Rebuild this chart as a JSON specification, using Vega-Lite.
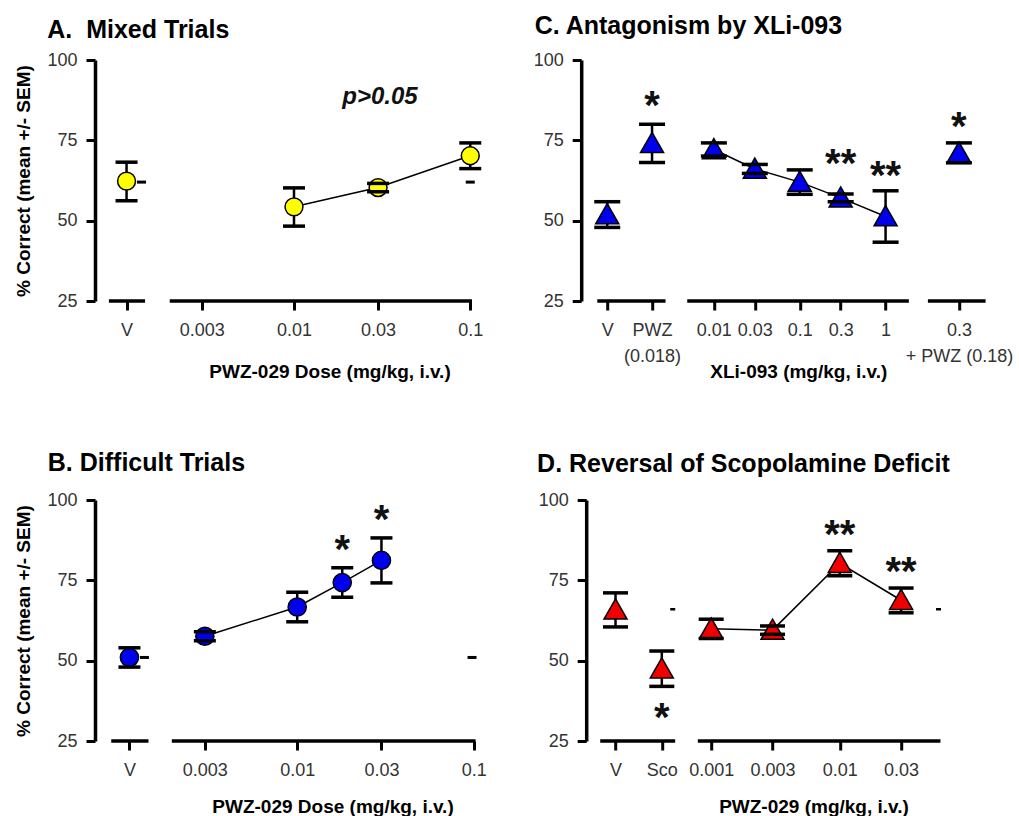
{
  "$schema": "https://vega.github.io/schema/vega-lite/v6.json",
  "padding": {"left": 14, "top": 14, "right": 0, "bottom": 0},
  "columns": 2,
  "align": "none",
  "bounds": "flush",
  "spacing": {"row": 199, "column": 91.2},
  "datasets": {
    "pts": [
      {"panel": "A", "dose": "V", "x": -2.95, "mean": 62.3, "lo": 56.2, "hi": 68.2, "conn": false},
      {"panel": "A", "dose": "0.01", "x": -2, "mean": 54.3, "lo": 48.3, "hi": 60.2, "conn": true},
      {"panel": "A", "dose": "0.03", "x": -1.523, "mean": 60.3, "lo": 59, "hi": 61.6, "conn": true},
      {"panel": "A", "dose": "0.1", "x": -1, "mean": 70.2, "lo": 66.2, "hi": 74.2, "conn": true},
      {"panel": "B", "dose": "V", "x": -2.95, "mean": 51, "lo": 48, "hi": 54, "conn": false},
      {"panel": "B", "dose": "0.003", "x": -2.523, "mean": 57.6, "lo": 56.2, "hi": 59, "conn": true},
      {"panel": "B", "dose": "0.01", "x": -2, "mean": 66.7, "lo": 62.1, "hi": 71.3, "conn": true},
      {"panel": "B", "dose": "0.018", "x": -1.745, "mean": 74.3, "lo": 69.7, "hi": 78.9, "conn": true, "sig": "*", "sig_y": 86.7},
      {"panel": "B", "dose": "0.03", "x": -1.523, "mean": 81.2, "lo": 74.2, "hi": 88.2, "conn": true, "sig": "*", "sig_y": 96},
      {"panel": "C", "dose": "V", "x": -3.242, "mean": 51.9, "lo": 47.9, "hi": 55.9, "conn": false},
      {"panel": "C", "dose": "PWZ (0.018)", "x": -2.72, "mean": 74.05, "lo": 68.1, "hi": 80, "conn": false, "sig": "*", "sig_y": 87.9},
      {"panel": "C", "dose": "0.01", "x": -2, "mean": 72.15, "lo": 70.1, "hi": 74.2, "conn": true},
      {"panel": "C", "dose": "0.03", "x": -1.523, "mean": 66.1, "lo": 64.7, "hi": 67.5, "conn": true},
      {"panel": "C", "dose": "0.1", "x": -1, "mean": 62, "lo": 58.2, "hi": 65.8, "conn": true},
      {"panel": "C", "dose": "0.3", "x": -0.523, "mean": 57.1, "lo": 55.9, "hi": 58.3, "conn": true, "sig": "**", "sig_y": 69.9},
      {"panel": "C", "dose": "1", "x": 0, "mean": 51.3, "lo": 43.3, "hi": 59.3, "conn": true, "sig": "**", "sig_y": 66},
      {"panel": "C", "dose": "0.3 + PWZ (0.18)", "x": 0.854, "mean": 71.1, "lo": 68, "hi": 74.2, "conn": false, "sig": "*", "sig_y": 81.2},
      {"panel": "D", "dose": "V", "x": -3.744, "mean": 65.8, "lo": 60.5, "hi": 71.1, "conn": false},
      {"panel": "D", "dose": "Sco", "x": -3.384, "mean": 47.5, "lo": 42, "hi": 53, "conn": false, "sig": "*", "sig_y": 34.3},
      {"panel": "D", "dose": "0.001", "x": -3, "mean": 59.9, "lo": 56.9, "hi": 62.9, "conn": true},
      {"panel": "D", "dose": "0.003", "x": -2.523, "mean": 59.5, "lo": 58.2, "hi": 60.8, "conn": true},
      {"panel": "D", "dose": "0.01", "x": -2, "mean": 80.3, "lo": 76.4, "hi": 84.2, "conn": true, "sig": "**", "sig_y": 91.4},
      {"panel": "D", "dose": "0.03", "x": -1.523, "mean": 68.8, "lo": 64.9, "hi": 72.6, "conn": true, "sig": "**", "sig_y": 79.7}
    ],
    "segs": [
      {"panel": "A", "x": -3.05, "x_end": -2.845},
      {"panel": "A", "x": -2.705, "x_end": -0.99},
      {"panel": "B", "x": -3.053, "x_end": -2.842},
      {"panel": "B", "x": -2.71, "x_end": -0.99},
      {"panel": "C", "x": -3.358, "x_end": -2.563},
      {"panel": "C", "x": -2.31, "x_end": 0.271},
      {"panel": "C", "x": 0.493, "x_end": 1.165},
      {"panel": "D", "x": -3.863, "x_end": -3.28},
      {"panel": "D", "x": -3.104, "x_end": -1.217}
    ],
    "dashes": [
      {"panel": "A", "x": -2.865, "mean": 62},
      {"panel": "A", "x": -1.0, "mean": 62},
      {"panel": "B", "x": -2.865, "mean": 51},
      {"panel": "B", "x": -1.01, "mean": 51},
      {"panel": "D", "x": -3.299, "mean": 66},
      {"panel": "D", "x": -1.232, "mean": 66}
    ],
    "notes": [
      {"panel": "A", "x": -1.512, "y": 88.5, "text": "p>0.05"}
    ]
  },
  "concat": [
    {
      "width": 395, "height": 241,
      "title": {"text": "A.\u00a0 Mixed Trials", "anchor": "start", "frame": "group", "dx": -47.7, "offset": -12.3, "fontSize": 25, "fontWeight": "bold", "font": "Liberation Sans", "color": "black", "baseline": "alphabetic"},
      "encoding": {"x": {"field": "x", "type": "quantitative", "scale": {"domain": [-3.129, -0.888], "nice": false, "zero": false},
        "axis": {"values": [-2.95, -2.523, -2, -1.523, -1], "labelExpr": "datum.value == -2.95 ? 'V' : datum.value == -2.523 ? '0.003' : datum.value == -2 ? '0.01' : datum.value == -1.523 ? '0.03' : '0.1'",
          "domain": false, "tickSize": 9, "tickWidth": 3, "tickColor": "black", "labelPadding": 11, "labelFontSize": 18, "labelColor": "#333", "labelFlush": false, "labelOverlap": false, "labelBound": false,
          "title": "PWZ-029 Dose (mg/kg, i.v.)", "titleFontSize": 19, "titleFontWeight": "bold", "titleColor": "black", "titleX": 234.5, "titleY": 61.3, "titleAnchor": "middle"}}},
      "layer": [
        {"data": {"name": "segs"}, "transform": [{"filter": "datum.panel == 'A'"}], "mark": {"type": "rule", "color": "black", "strokeWidth": 3.5, "strokeCap": "butt"},
         "encoding": {"x2": {"field": "x_end"}, "y": {"datum": 25, "type": "quantitative", "title": "% Correct (mean +/- SEM)", "scale": {"domain": [25, 100], "nice": false, "zero": false}}}},
        {"data": {"name": "dashes"}, "transform": [{"filter": "datum.panel == 'A'"}], "mark": {"type": "tick", "orient": "horizontal", "color": "black", "size": 9, "thickness": 3, "opacity": 1},
         "encoding": {"y": {"field": "mean", "type": "quantitative", "title": "% Correct (mean +/- SEM)", "scale": {"domain": [25, 100], "nice": false, "zero": false}}}},
        {"data": {"name": "pts"}, "transform": [{"filter": "datum.panel == 'A' && datum.conn"}], "mark": {"type": "line", "color": "black", "strokeWidth": 1.5},
         "encoding": {"y": {"field": "mean", "type": "quantitative", "title": "% Correct (mean +/- SEM)", "scale": {"domain": [25, 100], "nice": false, "zero": false}}}},
        {"data": {"name": "pts"}, "transform": [{"filter": "datum.panel == 'A'"}], "mark": {"type": "rule", "color": "black", "strokeWidth": 2.5},
         "encoding": {"y": {"field": "lo", "type": "quantitative", "title": "% Correct (mean +/- SEM)", "scale": {"domain": [25, 100], "nice": false, "zero": false}}, "y2": {"field": "hi"}}},
        {"data": {"name": "pts"}, "transform": [{"filter": "datum.panel == 'A'"}], "mark": {"type": "point", "shape": "circle", "filled": true, "fill": "#ffff00", "stroke": "black", "strokeWidth": 1.5, "size": 320, "opacity": 1},
         "encoding": {"y": {"field": "mean", "type": "quantitative", "title": "% Correct (mean +/- SEM)", "scale": {"domain": [25, 100], "nice": false, "zero": false},
           "axis": {"values": [25, 50, 75, 100], "domainWidth": 3.5, "domainColor": "black", "tickSize": 9, "tickWidth": 3, "tickColor": "black", "labelPadding": 9, "labelFontSize": 18, "labelColor": "#333", "labelFlush": false, "labelOverlap": false,
             "titleFontSize": 19, "titleFontWeight": "bold", "titleColor": "black", "titlePadding": 13}}}},
        {"data": {"name": "pts"}, "transform": [{"filter": "datum.panel == 'A'"}], "mark": {"type": "tick", "orient": "horizontal", "color": "black", "size": 22, "thickness": 3.5, "opacity": 1},
         "encoding": {"y": {"field": "lo", "type": "quantitative", "title": "% Correct (mean +/- SEM)", "scale": {"domain": [25, 100], "nice": false, "zero": false}}}},
        {"data": {"name": "pts"}, "transform": [{"filter": "datum.panel == 'A'"}], "mark": {"type": "tick", "orient": "horizontal", "color": "black", "size": 22, "thickness": 3.5, "opacity": 1},
         "encoding": {"y": {"field": "hi", "type": "quantitative", "title": "% Correct (mean +/- SEM)", "scale": {"domain": [25, 100], "nice": false, "zero": false}}}},
        {"data": {"name": "notes"}, "transform": [{"filter": "datum.panel == 'A'"}], "mark": {"type": "text", "fontSize": 24, "fontWeight": "bold", "fontStyle": "italic", "color": "#111", "align": "center", "baseline": "middle", "font": "Liberation Sans"},
         "encoding": {"y": {"field": "y", "type": "quantitative", "title": "% Correct (mean +/- SEM)", "scale": {"domain": [25, 100], "nice": false, "zero": false}}, "text": {"field": "text"}}}
      ]
    },
    {
      "width": 403, "height": 241,
      "title": {"text": "C. Antagonism by XLi-093", "anchor": "start", "frame": "group", "dx": -51.5, "offset": -8, "fontSize": 25, "fontWeight": "bold", "font": "Liberation Sans", "color": "black", "baseline": "alphabetic"},
      "encoding": {"x": {"field": "x", "type": "quantitative", "scale": {"domain": [-3.487, 1.207], "nice": false, "zero": false},
        "axis": {"values": [-3.242, -2.72, -2, -1.523, -1, -0.523, 0, 0.854], "labelExpr": "datum.value == -3.242 ? 'V' : datum.value == -2.72 ? ['PWZ', '(0.018)'] : datum.value == -2 ? '0.01' : datum.value == -1.523 ? '0.03' : datum.value == -1 ? '0.1' : datum.value == -0.523 ? '0.3' : datum.value == 0 ? '1' : ['0.3', '+ PWZ (0.18)']",
          "domain": false, "tickSize": 9, "tickWidth": 3, "tickColor": "black", "labelPadding": 11, "labelFontSize": 18, "labelLineHeight": 26, "labelColor": "#333", "labelFlush": false, "labelOverlap": false, "labelBound": false,
          "title": "XLi-093 (mg/kg, i.v.)", "titleFontSize": 19, "titleFontWeight": "bold", "titleColor": "black", "titleX": 212.1, "titleY": 61.6, "titleAnchor": "middle"}}},
      "layer": [
        {"data": {"name": "segs"}, "transform": [{"filter": "datum.panel == 'C'"}], "mark": {"type": "rule", "color": "black", "strokeWidth": 3.5, "strokeCap": "butt"},
         "encoding": {"x2": {"field": "x_end"}, "y": {"datum": 25, "type": "quantitative", "title": null, "scale": {"domain": [25, 100], "nice": false, "zero": false}}}},
        {"data": {"name": "pts"}, "transform": [{"filter": "datum.panel == 'C' && datum.conn"}], "mark": {"type": "line", "color": "black", "strokeWidth": 1.5},
         "encoding": {"y": {"field": "mean", "type": "quantitative", "title": null, "scale": {"domain": [25, 100], "nice": false, "zero": false}}}},
        {"data": {"name": "pts"}, "transform": [{"filter": "datum.panel == 'C'"}], "mark": {"type": "rule", "color": "black", "strokeWidth": 2.5},
         "encoding": {"y": {"field": "lo", "type": "quantitative", "title": null, "scale": {"domain": [25, 100], "nice": false, "zero": false}}, "y2": {"field": "hi"}}},
        {"data": {"name": "pts"}, "transform": [{"filter": "datum.panel == 'C'"}], "mark": {"type": "point", "shape": "M0,-0.95L1,0.8L-1,0.8Z", "filled": true, "fill": "#0000f0", "stroke": "black", "strokeWidth": 1.5, "size": 529, "opacity": 1},
         "encoding": {"y": {"field": "mean", "type": "quantitative", "title": null, "scale": {"domain": [25, 100], "nice": false, "zero": false},
           "axis": {"values": [25, 50, 75, 100], "offset": 5, "domainWidth": 3.5, "domainColor": "black", "tickSize": 9, "tickWidth": 3, "tickColor": "black", "labelPadding": 9, "labelFontSize": 18, "labelColor": "#333", "labelFlush": false, "labelOverlap": false}}}},
        {"data": {"name": "pts"}, "transform": [{"filter": "datum.panel == 'C'"}], "mark": {"type": "tick", "orient": "horizontal", "color": "black", "size": 26, "thickness": 3.5, "opacity": 1},
         "encoding": {"y": {"field": "lo", "type": "quantitative", "title": null, "scale": {"domain": [25, 100], "nice": false, "zero": false}}}},
        {"data": {"name": "pts"}, "transform": [{"filter": "datum.panel == 'C'"}], "mark": {"type": "tick", "orient": "horizontal", "color": "black", "size": 26, "thickness": 3.5, "opacity": 1},
         "encoding": {"y": {"field": "hi", "type": "quantitative", "title": null, "scale": {"domain": [25, 100], "nice": false, "zero": false}}}},
        {"data": {"name": "pts"}, "transform": [{"filter": "datum.panel == 'C' && datum.sig"}], "mark": {"type": "text", "fontSize": 40, "fontWeight": "bold", "color": "#111", "align": "center", "baseline": "alphabetic", "dy": 20, "font": "Liberation Sans"},
         "encoding": {"y": {"field": "sig_y", "type": "quantitative", "title": null, "scale": {"domain": [25, 100], "nice": false, "zero": false}}, "text": {"field": "sig"}}}
      ]
    },
    {
      "width": 400, "height": 241,
      "title": {"text": "B. Difficult Trials", "anchor": "start", "frame": "group", "dx": -47.2, "offset": -5, "fontSize": 25, "fontWeight": "bold", "font": "Liberation Sans", "color": "black", "baseline": "alphabetic"},
      "encoding": {"x": {"field": "x", "type": "quantitative", "scale": {"domain": [-3.145, -0.88], "nice": false, "zero": false},
        "axis": {"values": [-2.95, -2.523, -2, -1.523, -1], "labelExpr": "datum.value == -2.95 ? 'V' : datum.value == -2.523 ? '0.003' : datum.value == -2 ? '0.01' : datum.value == -1.523 ? '0.03' : '0.1'",
          "domain": false, "tickSize": 9, "tickWidth": 3, "tickColor": "black", "labelPadding": 11, "labelFontSize": 18, "labelColor": "#333", "labelFlush": false, "labelOverlap": false, "labelBound": false,
          "title": "PWZ-029 Dose (mg/kg, i.v.)", "titleFontSize": 19, "titleFontWeight": "bold", "titleColor": "black", "titleX": 237.5, "titleY": 56.4, "titleAnchor": "middle"}}},
      "layer": [
        {"data": {"name": "segs"}, "transform": [{"filter": "datum.panel == 'B'"}], "mark": {"type": "rule", "color": "black", "strokeWidth": 3.5, "strokeCap": "butt"},
         "encoding": {"x2": {"field": "x_end"}, "y": {"datum": 25, "type": "quantitative", "title": "% Correct (mean +/- SEM)", "scale": {"domain": [25, 100], "nice": false, "zero": false}}}},
        {"data": {"name": "dashes"}, "transform": [{"filter": "datum.panel == 'B'"}], "mark": {"type": "tick", "orient": "horizontal", "color": "black", "size": 9, "thickness": 3, "opacity": 1},
         "encoding": {"y": {"field": "mean", "type": "quantitative", "title": "% Correct (mean +/- SEM)", "scale": {"domain": [25, 100], "nice": false, "zero": false}}}},
        {"data": {"name": "pts"}, "transform": [{"filter": "datum.panel == 'B' && datum.conn"}], "mark": {"type": "line", "color": "black", "strokeWidth": 1.5},
         "encoding": {"y": {"field": "mean", "type": "quantitative", "title": "% Correct (mean +/- SEM)", "scale": {"domain": [25, 100], "nice": false, "zero": false}}}},
        {"data": {"name": "pts"}, "transform": [{"filter": "datum.panel == 'B'"}], "mark": {"type": "rule", "color": "black", "strokeWidth": 2.5},
         "encoding": {"y": {"field": "lo", "type": "quantitative", "title": "% Correct (mean +/- SEM)", "scale": {"domain": [25, 100], "nice": false, "zero": false}}, "y2": {"field": "hi"}}},
        {"data": {"name": "pts"}, "transform": [{"filter": "datum.panel == 'B'"}], "mark": {"type": "point", "shape": "circle", "filled": true, "fill": "#0000f0", "stroke": "black", "strokeWidth": 1.5, "size": 330, "opacity": 1},
         "encoding": {"y": {"field": "mean", "type": "quantitative", "title": "% Correct (mean +/- SEM)", "scale": {"domain": [25, 100], "nice": false, "zero": false},
           "axis": {"values": [25, 50, 75, 100], "domainWidth": 3.5, "domainColor": "black", "tickSize": 9, "tickWidth": 3, "tickColor": "black", "labelPadding": 9, "labelFontSize": 18, "labelColor": "#333", "labelFlush": false, "labelOverlap": false,
             "titleFontSize": 19, "titleFontWeight": "bold", "titleColor": "black", "titlePadding": 13}}}},
        {"data": {"name": "pts"}, "transform": [{"filter": "datum.panel == 'B'"}], "mark": {"type": "tick", "orient": "horizontal", "color": "black", "size": 22, "thickness": 3.5, "opacity": 1},
         "encoding": {"y": {"field": "lo", "type": "quantitative", "title": "% Correct (mean +/- SEM)", "scale": {"domain": [25, 100], "nice": false, "zero": false}}}},
        {"data": {"name": "pts"}, "transform": [{"filter": "datum.panel == 'B'"}], "mark": {"type": "tick", "orient": "horizontal", "color": "black", "size": 22, "thickness": 3.5, "opacity": 1},
         "encoding": {"y": {"field": "hi", "type": "quantitative", "title": "% Correct (mean +/- SEM)", "scale": {"domain": [25, 100], "nice": false, "zero": false}}}},
        {"data": {"name": "pts"}, "transform": [{"filter": "datum.panel == 'B' && datum.sig"}], "mark": {"type": "text", "fontSize": 40, "fontWeight": "bold", "color": "#111", "align": "center", "baseline": "alphabetic", "dy": 20, "font": "Liberation Sans"},
         "encoding": {"y": {"field": "sig_y", "type": "quantitative", "title": "% Correct (mean +/- SEM)", "scale": {"domain": [25, 100], "nice": false, "zero": false}}, "text": {"field": "sig"}}}
      ]
    },
    {
      "width": 363, "height": 241,
      "title": {"text": "D. Reversal of Scopolamine Deficit", "anchor": "start", "frame": "group", "dx": -49.1, "offset": -6.3, "fontSize": 25, "fontWeight": "bold", "font": "Liberation Sans", "color": "black", "baseline": "alphabetic"},
      "encoding": {"x": {"field": "x", "type": "quantitative", "scale": {"domain": [-3.972, -1.149], "nice": false, "zero": false},
        "axis": {"values": [-3.744, -3.384, -3, -2.523, -2, -1.523], "labelExpr": "datum.value == -3.744 ? 'V' : datum.value == -3.384 ? 'Sco' : datum.value == -3 ? '0.001' : datum.value == -2.523 ? '0.003' : datum.value == -2 ? '0.01' : '0.03'",
          "domain": false, "tickSize": 9, "tickWidth": 3, "tickColor": "black", "labelPadding": 11, "labelFontSize": 18, "labelColor": "#333", "labelFlush": false, "labelOverlap": false, "labelBound": false,
          "title": "PWZ-029 (mg/kg, i.v.)", "titleFontSize": 19, "titleFontWeight": "bold", "titleColor": "black", "titleX": 227.3, "titleY": 56.4, "titleAnchor": "middle"}}},
      "layer": [
        {"data": {"name": "segs"}, "transform": [{"filter": "datum.panel == 'D'"}], "mark": {"type": "rule", "color": "black", "strokeWidth": 3.5, "strokeCap": "butt"},
         "encoding": {"x2": {"field": "x_end"}, "y": {"datum": 25, "type": "quantitative", "title": null, "scale": {"domain": [25, 100], "nice": false, "zero": false}}}},
        {"data": {"name": "dashes"}, "transform": [{"filter": "datum.panel == 'D'"}], "mark": {"type": "tick", "orient": "horizontal", "color": "black", "size": 5, "thickness": 2.5, "opacity": 1},
         "encoding": {"y": {"field": "mean", "type": "quantitative", "title": null, "scale": {"domain": [25, 100], "nice": false, "zero": false}}}},
        {"data": {"name": "pts"}, "transform": [{"filter": "datum.panel == 'D' && datum.conn"}], "mark": {"type": "line", "color": "black", "strokeWidth": 1.5},
         "encoding": {"y": {"field": "mean", "type": "quantitative", "title": null, "scale": {"domain": [25, 100], "nice": false, "zero": false}}}},
        {"data": {"name": "pts"}, "transform": [{"filter": "datum.panel == 'D'"}], "mark": {"type": "rule", "color": "black", "strokeWidth": 2.5},
         "encoding": {"y": {"field": "lo", "type": "quantitative", "title": null, "scale": {"domain": [25, 100], "nice": false, "zero": false}}, "y2": {"field": "hi"}}},
        {"data": {"name": "pts"}, "transform": [{"filter": "datum.panel == 'D'"}], "mark": {"type": "point", "shape": "M0,-0.95L1,0.8L-1,0.8Z", "filled": true, "fill": "#f00000", "stroke": "black", "strokeWidth": 1.5, "size": 529, "opacity": 1},
         "encoding": {"y": {"field": "mean", "type": "quantitative", "title": null, "scale": {"domain": [25, 100], "nice": false, "zero": false},
           "axis": {"values": [25, 50, 75, 100], "domainWidth": 3.5, "domainColor": "black", "tickSize": 9, "tickWidth": 3, "tickColor": "black", "labelPadding": 9, "labelFontSize": 18, "labelColor": "#333", "labelFlush": false, "labelOverlap": false}}}},
        {"data": {"name": "pts"}, "transform": [{"filter": "datum.panel == 'D'"}], "mark": {"type": "tick", "orient": "horizontal", "color": "black", "size": 25, "thickness": 3.5, "opacity": 1},
         "encoding": {"y": {"field": "lo", "type": "quantitative", "title": null, "scale": {"domain": [25, 100], "nice": false, "zero": false}}}},
        {"data": {"name": "pts"}, "transform": [{"filter": "datum.panel == 'D'"}], "mark": {"type": "tick", "orient": "horizontal", "color": "black", "size": 25, "thickness": 3.5, "opacity": 1},
         "encoding": {"y": {"field": "hi", "type": "quantitative", "title": null, "scale": {"domain": [25, 100], "nice": false, "zero": false}}}},
        {"data": {"name": "pts"}, "transform": [{"filter": "datum.panel == 'D' && datum.sig"}], "mark": {"type": "text", "fontSize": 40, "fontWeight": "bold", "color": "#111", "align": "center", "baseline": "alphabetic", "dy": 20, "font": "Liberation Sans"},
         "encoding": {"y": {"field": "sig_y", "type": "quantitative", "title": null, "scale": {"domain": [25, 100], "nice": false, "zero": false}}, "text": {"field": "sig"}}}
      ]
    }
  ],
  "config": {
    "view": {"stroke": null},
    "font": "Liberation Sans",
    "axis": {"grid": false, "labelFont": "Liberation Sans", "titleFont": "Liberation Sans"}
  }
}
